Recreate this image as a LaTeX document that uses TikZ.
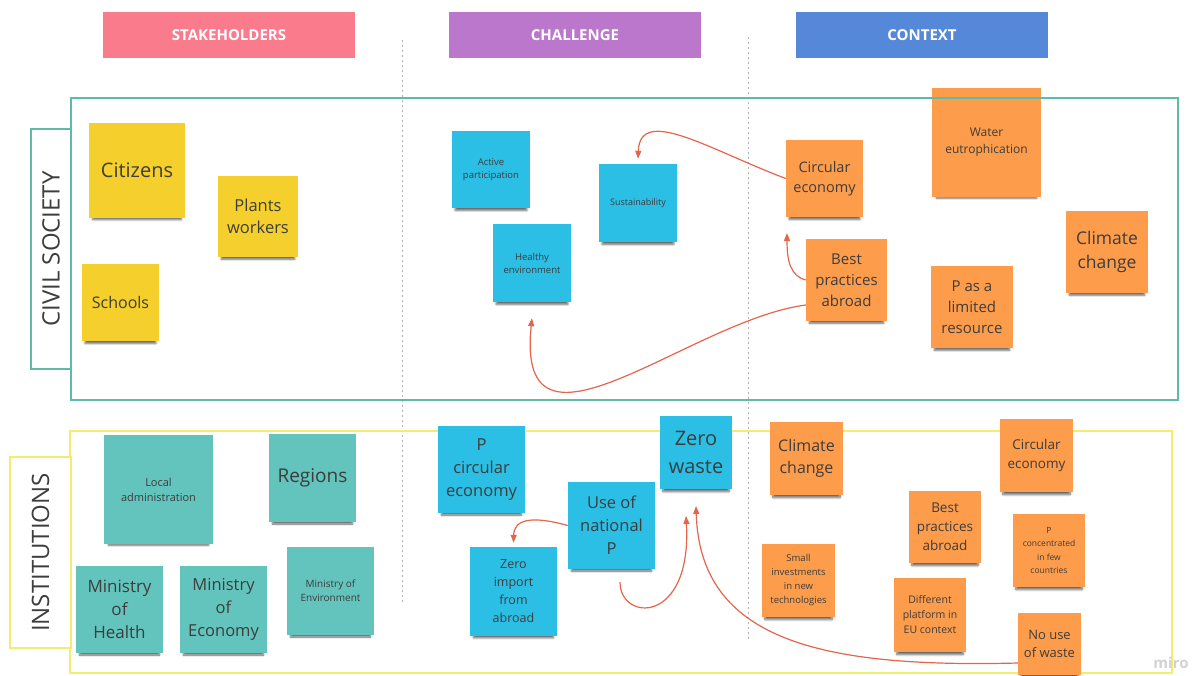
\documentclass[tikz,border=0pt]{standalone}
\usepackage{fontspec}
\setmainfont{Open Sans}
\usetikzlibrary{arrows.meta,shadows.blur}

\definecolor{headpink}{HTML}{FA7B8B}
\definecolor{headpurple}{HTML}{BB77CC}
\definecolor{headblue}{HTML}{5588D8}
\definecolor{lanegreen}{HTML}{5DBBA8}
\definecolor{laneyellow}{HTML}{F4EC6E}
\definecolor{stickyyellow}{HTML}{F5D02C}
\definecolor{stickycyan}{HTML}{2BBFE5}
\definecolor{stickyorange}{HTML}{FD9C4A}
\definecolor{stickyteal}{HTML}{62C4BC}
\definecolor{inktext}{HTML}{3D3D3D}
\definecolor{linkred}{HTML}{E5644C}

\newcommand{\sz}[2]{\fontsize{#1}{#2}\selectfont}

\begin{document}
\begin{tikzpicture}[x=1pt, y=-1pt,
  header/.style={fill=#1, minimum width=252pt, minimum height=46pt, inner sep=0pt,
    text=white, font=\bfseries\sz{15}{18}},
  sticky/.style={fill=#1, text=inktext, align=center, inner sep=0pt,
    blur shadow={shadow xshift=0pt, shadow yshift=-6pt, shadow scale=0.92,
      shadow opacity=60, shadow blur steps=8}},
  lane/.style={draw=#1, line width=2pt},
  lanelabel/.style={draw=#1, line width=2pt, fill=white, text=inktext,
    font=\sz{24}{28}, inner sep=0pt},
  link/.style={draw=linkred, line width=1.2pt, -{Triangle[length=8pt,width=6pt]}}]
  \useasboundingbox (0,0) rectangle (1193,675);

  % column headers
  \node[header=headpink] (stake) at (229, 35) {STAKEHOLDERS};
  \node[header=headpurple] (chal) at (575, 35) {CHALLENGE};
  \node[header=headblue] (ctx) at (922, 35) {CONTEXT};

  % column separators
  \draw[gray!60, dash pattern=on 2pt off 3pt, line width=0.8pt] (402, 40) -- (402, 602);
  \draw[gray!60, dash pattern=on 2pt off 3pt, line width=0.8pt] (748, 37) -- (748, 640);

  % institutions lane goes under its notes
  \draw[lane=laneyellow] (70, 431) rectangle (1172, 673);
  \node[lanelabel=laneyellow, minimum width=191pt, minimum height=61pt,
    rotate=90] (inst) at (40.5, 552.5) {INSTITUTIONS};

  % civil society: stakeholders
  \node[sticky=stickyyellow, minimum width=96pt, minimum height=95pt,
    font=\sz{20}{27}] (citizens) at (137, 170.5) {Citizens};
  \node[sticky=stickyyellow, minimum width=80pt, minimum height=81pt,
    font=\sz{16.5}{22.5}] (plants) at (258, 216.5) {Plants\\workers};
  \node[sticky=stickyyellow, minimum width=77pt, minimum height=77pt,
    font=\sz{16}{22}] (schools) at (120.5, 302.5) {Schools};

  % civil society: challenge
  \node[sticky=stickycyan, minimum width=78pt, minimum height=77pt,
    font=\sz{9.5}{13}] (active) at (491, 169.5) {Active\\participation};
  \node[sticky=stickycyan, minimum width=78pt, minimum height=78pt,
    font=\sz{9}{12}] (sust) at (638, 203) {Sustainability};
  \node[sticky=stickycyan, minimum width=78pt, minimum height=78pt,
    font=\sz{9.5}{13}] (healthy) at (532, 263) {Healthy\\environment};

  % civil society: context
  \node[sticky=stickyorange, minimum width=77pt, minimum height=77pt,
    font=\sz{14.5}{20}] (circ1) at (824.5, 178.5) {Circular\\economy};
  \node[sticky=stickyorange, minimum width=109pt, minimum height=109pt,
    font=\sz{12}{17}] (water) at (986.5, 142.5) {Water\\eutrophication};
  \node[sticky=stickyorange, minimum width=81pt, minimum height=82pt,
    font=\sz{15}{21}] (best1) at (846.5, 280) {Best\\practices\\abroad};
  \node[sticky=stickyorange, minimum width=82pt, minimum height=82pt,
    font=\sz{15}{21}] (plim) at (972, 307) {P as a\\limited\\resource};
  \node[sticky=stickyorange, minimum width=82pt, minimum height=82pt,
    font=\sz{17.5}{24}] (climate1) at (1107, 252) {Climate\\change};

  % institutions: stakeholders
  \node[sticky=stickyteal, minimum width=109pt, minimum height=109pt,
    font=\sz{11}{15}] (local) at (158.5, 489.5) {Local\\administration};
  \node[sticky=stickyteal, minimum width=87pt, minimum height=88pt,
    font=\sz{19}{26}] (regions) at (312.5, 478) {Regions};
  \node[sticky=stickyteal, minimum width=87pt, minimum height=87pt,
    font=\sz{17}{23}] (mhealth) at (119.5, 609.5) {Ministry\\of\\Health};
  \node[sticky=stickyteal, minimum width=87pt, minimum height=87pt,
    font=\sz{16.5}{23}] (mecon) at (223.5, 609.5) {Ministry\\of\\Economy};
  \node[sticky=stickyteal, minimum width=87pt, minimum height=88pt,
    font=\sz{10}{14}] (menv) at (330.5, 591) {Ministry of\\Environment};

  % institutions: challenge
  \node[sticky=stickycyan, minimum width=87pt, minimum height=87pt,
    font=\sz{16.5}{23}] (pcirc) at (481.5, 469.5) {P\\circular\\economy};
  \node[sticky=stickycyan, minimum width=72pt, minimum height=73pt,
    font=\sz{20}{28}] (zerowaste) at (696, 452.5) {Zero\\waste};
  \node[sticky=stickycyan, minimum width=87pt, minimum height=87pt,
    font=\sz{16.5}{23}] (usenat) at (611.5, 525.5) {Use of\\national\\P};
  \node[sticky=stickycyan, minimum width=87pt, minimum height=89pt,
    font=\sz{12.5}{18}] (zeroimp) at (513.5, 591.5) {Zero\\import\\from\\abroad};

  % institutions: context
  \node[sticky=stickyorange, minimum width=73pt, minimum height=73pt,
    font=\sz{16}{22}] (climate2) at (806.5, 458.5) {Climate\\change};
  \node[sticky=stickyorange, minimum width=73pt, minimum height=73pt,
    font=\sz{13.5}{19}] (circ2) at (1036.5, 455.5) {Circular\\economy};
  \node[sticky=stickyorange, minimum width=72pt, minimum height=72pt,
    font=\sz{13.5}{19}] (best2) at (945, 527) {Best\\practices\\abroad};
  \node[sticky=stickyorange, minimum width=72pt, minimum height=73pt,
    font=\sz{8.5}{13.5}] (pconc) at (1049, 550.5) {P\\concentrated\\in few\\countries};
  \node[sticky=stickyorange, minimum width=73pt, minimum height=73pt,
    font=\sz{9.5}{14}] (smallinv) at (798.5, 580.5) {Small\\investments\\in new\\technologies};
  \node[sticky=stickyorange, minimum width=72pt, minimum height=74pt,
    font=\sz{10.5}{15}] (diffplat) at (930, 615) {Different\\platform in\\EU context};
  \node[sticky=stickyorange, minimum width=63pt, minimum height=62pt,
    font=\sz{13}{17.5}] (nouse) at (1049.5, 644) {No use\\of waste};

  % civil society lane on top, its line runs over the tall note
  \draw[lane=lanegreen] (71, 98) rectangle (1178, 400);
  \node[lanelabel=lanegreen, minimum width=240pt, minimum height=40pt,
    rotate=90] (civil) at (51, 249) {CIVIL SOCIETY};

  % free ends of the links
  \coordinate (tipbest) at (787, 233);
  \coordinate (tipuse) at (686, 516);
  \coordinate (tipwaste) at (696, 506);
  \coordinate (loopstart) at (620, 582);

  % links
  \draw[link] (circ1.west) .. controls (710, 150) and (640, 105) .. ([yshift=5pt]sust.north);
  \draw[link] ([yshift=-25pt]best1.west) .. controls (690, 320) and (515, 480) .. ([yshift=-16pt]healthy.south);
  \draw[link] (best1.west) .. controls (790, 276) and (787, 260) .. (tipbest);
  \draw[link] (usenat.west) .. controls (530, 515) and (514, 520) .. ([yshift=4pt]zeroimp.north);
  \draw[link] (loopstart) .. controls (620, 622) and (692, 625) .. (tipuse);
  \draw[link] ([yshift=-19pt]nouse.west) .. controls (820, 668) and (700, 640) .. (tipwaste);

  % board watermark
  \node[text=gray!35, font=\bfseries\sz{15}{18}, inner sep=0pt] (miro) at (1171, 663) {miro};
\end{tikzpicture}
\end{document}
